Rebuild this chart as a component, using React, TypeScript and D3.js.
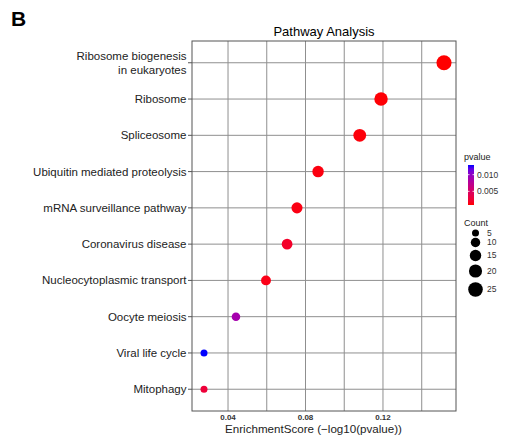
import React from "react";
import * as d3 from "d3";

// pathway terms, top to bottom
const pathways = [
  "Ribosome biogenesis\nin eukaryotes",
  "Ribosome",
  "Spliceosome",
  "Ubiquitin mediated proteolysis",
  "mRNA surveillance pathway",
  "Coronavirus disease",
  "Nucleocytoplasmic transport",
  "Oocyte meiosis",
  "Viral life cycle",
  "Mitophagy",
];
const scores = [0.1515, 0.119, 0.108, 0.0865, 0.0756, 0.0705, 0.0596, 0.0441, 0.0276, 0.0276];
const counts = [27, 21, 19, 15, 14, 13, 11, 8, 5, 5];
const pvalues = [0.0009, 0.001, 0.0011, 0.0012, 0.0013, 0.0021, 0.0014, 0.0088, 0.0129, 0.0028];

const xTicks = [0.04, 0.08, 0.12];
const xGrid = [0.04, 0.06, 0.08, 0.1, 0.12, 0.14];
const pTicks = [0.005, 0.01];
const countBreaks = [5, 10, 15, 20, 25];

const font = "'Liberation Sans', Arial, sans-serif";

const App: React.FC = () => {
  const left = 192,
    right = 456,
    top = 41,
    bottom = 411;

  const xMin = d3.min(scores) ?? 0;
  const xMax = d3.max(scores) ?? 1;
  const pad = (xMax - xMin) * 0.05;
  const x = d3.scaleLinear().domain([xMin - pad, xMax + pad]).range([left, right]);

  const y = d3
    .scalePoint<string>()
    .domain(pathways)
    .range([top, bottom])
    .padding(0.6);

  // area-proportional size scale
  const r = (c: number) => Math.sqrt(2 + 2.05 * c);

  const pMin = d3.min(pvalues) ?? 0;
  const pMax = d3.max(pvalues) ?? 1;
  const color = d3
    .scaleLinear<string>()
    .domain([pMin, pMax])
    .range(["red", "blue"])
    .interpolate(d3.interpolateLab);

  // colour bar
  const barTop = 165,
    barBottom = 205,
    barX = 468,
    barW = 6;
  const pY = d3.scaleLinear().domain([pMin, pMax]).range([barBottom, barTop]);
  const legendY = [233, 242.5, 255.5, 271, 289.5];

  return (
    <svg width={510} height={436} style={{ position: "absolute", left: 0, top: 0 }}>
      <defs>
        <linearGradient id="pgrad" x1="0" y1="1" x2="0" y2="0">
          {d3.range(0, 1.001, 0.1).map((t) => (
            <stop key={t} offset={t} stopColor={color(pMin + t * (pMax - pMin))} />
          ))}
        </linearGradient>
      </defs>
      <rect width={510} height={436} fill="white" />

      <text x={11} y={26} fontFamily={font} fontWeight="bold" fontSize={21} fill="#000">
        B
      </text>
      <text x={(left + right) / 2} y={36} textAnchor="middle" fontFamily={font} fontSize={13} fill="#000">
        Pathway Analysis
      </text>

      {/* grid */}
      {xGrid.map((v) => (
        <line key={v} x1={x(v)} x2={x(v)} y1={top} y2={bottom} stroke="#8f8f8f" strokeWidth={1} />
      ))}
      {pathways.map((p) => (
        <line key={p} x1={left} x2={right} y1={y(p)} y2={y(p)} stroke="#8f8f8f" strokeWidth={1} />
      ))}
      <rect x={left} y={top} width={right - left} height={bottom - top} fill="none" stroke="#555" strokeWidth={1} />

      {/* y axis */}
      {pathways.map((p) => {
        const lines = p.split("\n");
        const cy = y(p) ?? 0;
        return (
          <g key={p}>
            <line x1={left - 4} x2={left} y1={cy} y2={cy} stroke="#555" />
            {lines.map((l, i) => (
              <text
                key={l}
                x={left - 5.5}
                y={cy + (i - (lines.length - 1) / 2) * 14}
                dy="0.35em"
                textAnchor="end"
                fontFamily={font}
                fontSize={11.5}
                fill="#222"
              >
                {l}
              </text>
            ))}
          </g>
        );
      })}

      {/* x axis */}
      {xTicks.map((v) => (
        <text
          key={v}
          x={x(v)}
          y={419.5}
          textAnchor="middle"
          fontFamily={font}
          fontSize={8}
          fontWeight="bold"
          fill="#333"
        >
          {v.toFixed(2)}
        </text>
      ))}
      <text x={313.5} y={432.5} textAnchor="middle" fontFamily={font} fontSize={11.6} fill="#222">
        EnrichmentScore (−log10(pvalue))
      </text>

      {/* points */}
      {pathways.map((p, i) => (
        <circle key={p} cx={x(scores[i])} cy={y(p)} r={r(counts[i])} fill={color(pvalues[i])} />
      ))}

      {/* pvalue legend */}
      <text x={464} y={160} fontFamily={font} fontSize={9} fill="#222">
        pvalue
      </text>
      <rect x={barX} y={barTop} width={barW} height={barBottom - barTop} fill="url(#pgrad)" />
      {pTicks.map((v) => (
        <g key={v}>
          <line x1={barX} x2={barX + 1.5} y1={pY(v)} y2={pY(v)} stroke="white" strokeOpacity={0.8} />
          <line x1={barX + barW - 1.5} x2={barX + barW} y1={pY(v)} y2={pY(v)} stroke="white" strokeOpacity={0.8} />
          <text x={477} y={pY(v)} dy="0.35em" fontFamily={font} fontSize={8.5} fill="#333">
            {v.toFixed(3)}
          </text>
        </g>
      ))}

      {/* count legend */}
      <text x={464} y={226} fontFamily={font} fontSize={9} fill="#222">
        Count
      </text>
      {countBreaks.map((c, i) => (
        <g key={c}>
          <circle cx={475.5} cy={legendY[i]} r={r(c)} fill="#000" />
          <text x={487} y={legendY[i]} dy="0.35em" fontFamily={font} fontSize={8.5} fill="#333">
            {c}
          </text>
        </g>
      ))}
    </svg>
  );
};

export default App;
